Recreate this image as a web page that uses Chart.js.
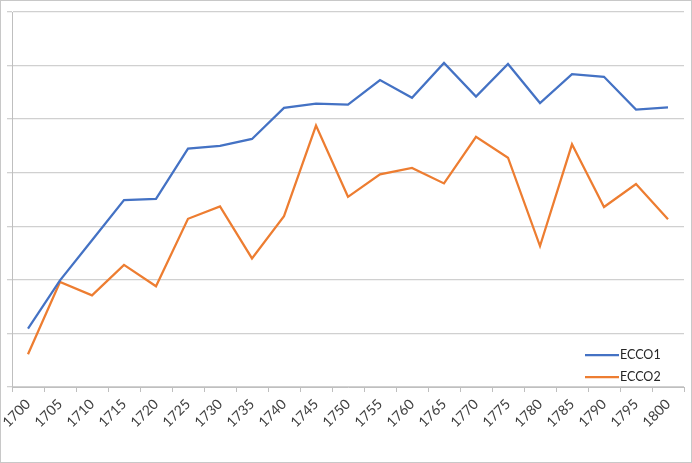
<!DOCTYPE html>
<html>
<head>
<meta charset="utf-8">
<script src="https://cdn.jsdelivr.net/npm/chart.js@4"></script>
<style>
  html, body { margin: 0; padding: 0; background: #fff; }
  #wrap { width: 692px; height: 463px; position: relative; }
</style>
</head>
<body>
<div id="wrap"><canvas id="myChart"></canvas></div>
<script>
Chart.defaults.font.family = 'Lato, "Open Sans", sans-serif';
Chart.defaults.font.size = 13;

var years = ['1700', '1705', '1710', '1715', '1720', '1725', '1730', '1735', '1740', '1745', '1750',
             '1755', '1760', '1765', '1770', '1775', '1780', '1785', '1790', '1795', '1800'];
var ecco1 = [1.09, 1.99, 2.74, 3.49, 3.51, 4.45, 4.50, 4.63, 5.21, 5.29, 5.27,
             5.73, 5.40, 6.05, 5.42, 6.03, 5.30, 5.84, 5.79, 5.18, 5.22];
var ecco2 = [0.61, 1.96, 1.71, 2.28, 1.88, 3.14, 3.37, 2.40, 3.19, 4.88, 3.55,
             3.97, 4.09, 3.80, 4.67, 4.28, 2.63, 4.53, 3.36, 3.79, 3.13];

// legend drawn inside the plot, bottom right, like the excel one
var insideLegend = {
  id: 'insideLegend',
  afterDraw: function(chart) {
    var c = chart.ctx;
    c.save();
    chart.data.datasets.forEach(function(ds, i) {
      var y = 355 + i * 22;
      c.strokeStyle = ds.borderColor;
      c.lineWidth = 2.25;
      c.beginPath();
      c.moveTo(585, y);
      c.lineTo(619, y);
      c.stroke();
      c.fillStyle = '#262626';
      c.font = '12.5px Lato, "Open Sans", sans-serif';
      c.textBaseline = 'middle';
      c.fillText(ds.label, 620, y);
    });
    // outer frame
    c.strokeStyle = '#c8c8c8';
    c.lineWidth = 1;
    c.strokeRect(0.5, 0.5, chart.width - 1, chart.height - 1);
    c.restore();
  }
};

var ctx = document.getElementById('myChart');

var myChart = new Chart(ctx, {
  type: 'line',
  data: {
    labels: years,
    datasets: [{
      label: 'ECCO1',
      data: ecco1,
      borderColor: '#4472C4',
      backgroundColor: '#4472C4',
      borderWidth: 2.25,
      pointRadius: 0,
      tension: 0
    }, {
      label: 'ECCO2',
      data: ecco2,
      borderColor: '#ED7D31',
      backgroundColor: '#ED7D31',
      borderWidth: 2.25,
      pointRadius: 0,
      tension: 0
    }]
  },
  options: {
    responsive: true,
    maintainAspectRatio: false,
    animation: false,
    layout: { padding: { top: 12, right: 8, left: 0, bottom: 0 } },
    plugins: {
      legend: { display: false },
      tooltip: { enabled: false }
    },
    scales: {
      x: {
        offset: true,
        grid: {
          offset: true,
          drawOnChartArea: false,
          drawTicks: true,
          tickLength: 5,
          color: '#bfbfbf'
        },
        border: { color: '#bfbfbf', width: 1 },
        ticks: {
          minRotation: 45,
          maxRotation: 45,
          autoSkip: false,
          color: '#404040',
          font: { size: 14 },
          padding: 4
        },
        afterFit: function(s) { s.height = 76; }
      },
      y: {
        min: 0,
        max: 7,
        grid: {
          color: '#d0d0d0',
          lineWidth: 1.3,
          drawTicks: true,
          tickLength: 5
        },
        border: { color: '#bfbfbf', width: 1 },
        ticks: { stepSize: 1, display: false },
        afterFit: function(s) { s.width = 12; }
      }
    }
  },
  plugins: [insideLegend]
});
</script>
</body>
</html>
